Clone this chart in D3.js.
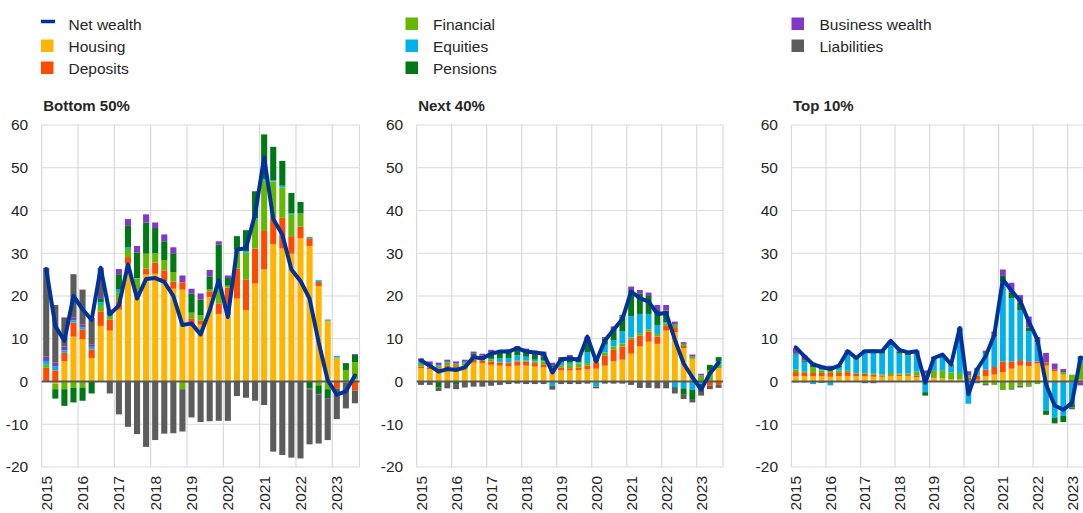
<!DOCTYPE html>
<html>
<head>
<meta charset="utf-8">
<script src="https://cdn.jsdelivr.net/npm/d3@7"></script>
<style>
  body { margin: 0; background: #fff; }
  svg { display: block; }
  text { font-family: "Liberation Sans", Arial, sans-serif; }
</style>
</head>
<body>
<svg id="chart" width="1083" height="513"></svg>
<script>
// ---- categories and tick labels ----
const years = ["2015", "2016", "2017", "2018", "2019", "2020", "2021", "2022", "2023"];
const quarters = years.flatMap(y => ["Q1", "Q2", "Q3", "Q4"].map(q => y + q)).slice(0, 35);
const yTicks = [60, 50, 40, 30, 20, 10, 0, -10, -20];

const seriesKeys = ["housing", "deposits", "financial", "equities", "pensions", "business", "liabilities"];
const seriesLabels = ["Housing", "Deposits", "Financial", "Equities", "Pensions", "Business wealth", "Liabilities"];
const seriesColors = ["#FFB400", "#FF4B00", "#65B800", "#00B1EA", "#007816", "#8139C6", "#5C5C5C"];
const netLabel = "Net wealth";
const netColor = "#003299";

// ---- Bottom 50% (contributions, percentage points) ----
const b50Housing     = [0, -0.5, 4.7, 10.5, 9.9, 5.5, 13.0, 11.9, 16.8, 27.6, 21.0, 25.0, 25.2, 23.5, 21.7, 21.5, 13.0, 13.3, 19.8, 15.8, 15.5, 19.4, 16.7, 22.9, 26.2, 32.1, 31.1, 29.9, 33.5, 31.7, 22.3, 14.2, 5.6, 0, 0.5];
const b50Deposits    = [3.2, 2.6, 2.0, 3.3, 2.3, 2.0, 3.4, 2.6, 1.9, 1.5, 0.3, 1.4, 2.6, 2.5, 1.7, 1.7, 1.8, 0.9, 1.3, 2.5, 6.5, 7.0, 7.2, 8.2, 9.0, 6.1, 7.2, 4.1, 2.7, 1.8, 1.0, 0, -1.6, -0.3, -2.1];
const b50Financial   = [0.7, -1.3, -1.8, -1.5, -1.4, 0, 1.5, 0.8, 2.2, 1.9, 2.8, 3.5, 2.2, 2.4, 2.2, -1.8, 1.3, 1.3, 0.4, 3.7, 0.4, 4.0, 6.2, 6.7, 11.8, 8.6, 7.1, 5.0, 3.1, 0, -0.9, -1.8, 0, 2.7, 4.0];
const b50Equities    = [0.9, 1.0, 0.6, 0.5, 0.5, 0.6, 0.6, 0.3, 0.6, 0.4, 0.1, 0, 0, 0, 0, 0, 0, 0, 0, 0, 0, 0.5, 0.4, 0.4, 0.4, 0.3, 0.4, 0.3, 0, 0.3, 0.4, 0.3, 0.4, 0, 0];
const b50Pensions    = [0, -2.2, -3.9, -3.4, -3.1, -2.8, 1.0, 0.8, 3.6, 5.0, 6.0, 7.3, 5.9, 4.4, 4.4, 0, 4.5, 3.7, 3.1, 10.0, 1.8, 3.1, 4.9, 6.3, 10.4, 7.8, 5.8, 4.8, 2.7, -1.6, -2.0, -2.1, 0, 1.6, 1.7];
const b50Business    = [1.0, 0.8, 0.9, 0.6, 0.6, 0.5, 0.5, 0.4, 1.2, 1.6, 1.5, 1.9, 1.3, 1.6, 1.4, 1.6, 1.1, 1.4, 1.5, 0.8, 0.6, 0, 0, 0, 0, 0, 0, 0, 0, -0.2, -0.2, -0.2, 0, 0, 0.2];
const b50Liabilities = [20.8, 13.5, 6.8, 10.2, 8.2, 6.3, 6.6, -2.8, -7.7, -10.6, -12.3, -15.3, -13.7, -12.2, -12.1, -9.9, -8.4, -9.5, -9.3, -9.2, -9.2, -3.4, -3.8, -4.5, -5.5, -16.4, -17.2, -17.8, -18.0, -12.9, -11.4, -9.6, -7.2, -6.0, -3.0];
const b50Net         = [26.3, 13.0, 9.5, 20.0, 16.9, 14.4, 26.6, 15.7, 17.8, 27.4, 19.4, 24.0, 24.2, 23.3, 20.0, 13.2, 13.6, 11.0, 16.6, 23.7, 15.1, 30.8, 31.2, 39.1, 52.4, 38.0, 34.4, 26.2, 23.5, 19.4, 9.2, 0.3, -3.1, -2.3, 1.4];

// ---- Next 40% ----
const n40Housing     = [3.1, 2.9, 2.7, 3.1, 2.9, 3.1, 4.4, 4.3, 3.9, 3.7, 3.5, 3.7, 3.7, 3.5, 3.3, 2.3, 2.6, 2.6, 2.7, 2.9, 3.0, 3.7, 4.7, 5.1, 6.5, 8.2, 9.3, 8.8, 11.9, 11.5, 7.8, 5.3, 0, 0, 3.1];
const n40Deposits    = [0.4, 0.4, 0.4, 0.7, 0.7, 0.6, 0.7, 0.6, 0.8, 0.7, 0.8, 1.0, 1.0, 0.8, 0.6, 0.4, 0.7, 0.5, 0.6, 0.8, 1.5, 2.3, 2.7, 3.1, 3.4, 2.5, 2.4, 1.7, 1.1, 1.0, 0.5, 0, 0, -1.0, -0.8];
const n40Financial   = [0.6, 0.4, 0.5, 0.6, 0.5, 0.6, 0.7, 0.5, 0.4, 0.2, 0.2, 0.2, 0.2, 0.4, 0.8, 0.6, 0.5, 0.8, 0.9, 0.6, 0.3, 0.8, 0.8, 0.7, 0.4, 0.6, 0.5, 0.6, 0.5, 0.8, 0.5, 0.5, 1.4, 2.6, 0.8];
const n40Equities    = [0.6, 0.2, 0.2, 0.1, 0.1, 0.2, 0, 0.1, 0.2, 0.8, 1.0, 1.2, 0.9, 0.4, 0.2, -1.0, 0.6, 0.5, 0.3, 2.5, -1.2, 1.8, 1.5, 2.8, 5.0, 4.5, 3.6, 2.1, 0.3, -1.3, -1.6, -1.9, -0.5, 0, 0.8];
const n40Pensions    = [0.3, 0.1, -1.4, 0.2, -0.6, 0.2, 0.7, 0.6, 1.5, 1.4, 1.5, 1.4, 1.2, 1.1, 1.0, 0.5, 0.6, 1.0, 0.8, 3.1, 0.6, 1.5, 2.8, 3.5, 6.1, 4.8, 4.2, 3.5, 2.8, 0, -1.5, -2.2, -1.0, 1.3, 1.0];
const n40Business    = [0.4, 0.7, 0.6, 0.4, 0.5, 0.4, 0.5, 0.4, 0.6, 0.6, 0.5, 0.8, 0.7, 1.0, 1.1, 0.6, 0.7, 0.8, 0.4, 0.6, 0.3, 0.3, 0.4, 0.4, 0.8, 0.8, 0.8, 1.2, 1.3, 0.7, 0.4, 0.5, 0.4, 0, 0];
const n40Liabilities = [-0.8, -0.8, -0.8, -1.6, -1.2, -1.4, -1.2, -1.2, -1.0, -0.8, -0.6, -0.5, -0.6, -0.6, -0.6, -0.9, -0.6, -0.6, -0.6, -0.5, -0.4, -0.5, -0.5, -0.5, -0.8, -1.5, -1.5, -1.6, -1.6, -1.5, -1.0, -0.8, -1.8, -0.8, -0.7];
const n40Net         = [4.9, 3.7, 2.3, 2.9, 2.7, 3.3, 5.7, 5.4, 6.5, 7.0, 7.0, 7.8, 7.0, 6.8, 6.5, 2.1, 5.2, 5.4, 5.1, 10.5, 4.7, 9.6, 12.1, 14.6, 21.0, 19.5, 18.7, 15.8, 16.0, 9.8, 4.2, 1.0, -1.9, 1.9, 4.4];

// ---- Top 10% ----
const t10Housing     = [1.2, 1.2, 1.2, 1.2, 1.1, 1.2, 1.3, 1.2, 1.2, 1.1, 1.1, 1.3, 1.3, 1.3, 1.0, 0.3, 0.8, 0.7, 0.5, 0.5, 0.3, 0.4, 1.3, 1.6, 2.2, 3.0, 3.7, 3.6, 4.2, 3.7, 2.4, 1.6, 0, 0.4, 0.5];
const t10Deposits    = [1.0, 0.8, 0.8, 0.8, 0.9, 0.8, 0.9, 0.6, 0.6, 0.5, 0.3, 0.2, 0.3, 0.2, 0.4, 0.3, 0.2, 0, 0, 0, 0.6, 1.0, 1.5, 1.8, 2.5, 1.7, 1.3, 1.0, 0.5, 0.8, 0.4, 0, -0.3, -0.3, -0.2];
const t10Financial   = [0.6, 0.3, 1.3, 0.6, 0.8, 0.6, 0.3, 0.2, 0.2, 0.2, 0.2, 0.5, 0.3, 0.4, 0.9, 1.2, 1.5, 1.8, 1.6, 1.5, 0.6, 0.4, -0.6, -0.8, -2.0, -1.6, -1.0, -1.0, -0.6, 0, 0, 0.6, 1.6, 3.7, 1.5];
const t10Equities    = [3.5, 2.3, -0.6, 0.3, -0.9, 0.8, 4.3, 3.2, 4.8, 4.9, 4.9, 6.5, 4.6, 4.2, 4.2, -2.5, 3.0, 3.4, 1.4, 9.8, -5.2, 1.2, 3.9, 7.1, 18.8, 14.8, 11.7, 7.2, 4.5, -6.8, -8.5, -8.0, -5.0, 1.2, 2.8];
const t10Pensions    = [0.3, 0.3, 0.8, 0.3, 0.5, 0.3, 0.3, 0.3, 0.5, 0.7, 0.6, 0.7, 0.5, 0.5, 0.6, -0.8, 0.3, 0.3, 0.3, 0.5, 0, 0, 0.2, 0.5, 1.2, 1.3, 1.7, 0.8, 0.6, -1.0, -1.3, -1.5, -0.8, 0.6, 0.5];
const t10Business    = [1.2, 1.2, 0.3, 0.2, 0.4, 0, 0.2, 0, 0.1, 0.1, 0, 0.3, 0.3, 0.2, 0.1, 0.8, 0, 0, 0.2, 0.3, 0.9, 0.2, 0.3, 0.7, 1.5, 2.3, 1.8, 2.6, 0.6, 2.2, 1.4, 0.7, 0, -0.6, 0.2];
const t10Liabilities = [-0.2, -0.2, 0, -0.3, 0, 0, 0, 0, -0.4, -0.4, 0, 0, 0, 0, 0, 0, 0, 0, 0, 0, 0, -0.4, -0.3, 0, 0, -0.3, -0.4, -0.2, 0, 0, 0, 0, -0.4, 0, 0];
const t10Net         = [8.0, 5.9, 4.0, 3.4, 2.9, 3.7, 7.1, 5.5, 7.1, 7.1, 7.1, 9.5, 7.4, 6.8, 7.1, -0.3, 5.5, 6.3, 4.0, 12.5, -3.0, 2.8, 5.9, 10.9, 23.9, 21.2, 18.9, 14.0, 9.8, -0.7, -5.6, -6.6, -5.0, 5.6, 5.0];

const panels = [
  { title: "Bottom 50%", left: 41.7, right: 359.5,
    series: [b50Housing, b50Deposits, b50Financial, b50Equities, b50Pensions, b50Business, b50Liabilities], net: b50Net },
  { title: "Next 40%", left: 416.7, right: 723,
    series: [n40Housing, n40Deposits, n40Financial, n40Equities, n40Pensions, n40Business, n40Liabilities], net: n40Net },
  { title: "Top 10%", left: 791.5, right: 1093.5,
    series: [t10Housing, t10Deposits, t10Financial, t10Equities, t10Pensions, t10Business, t10Liabilities], net: t10Net }
];

const svg = d3.select("#chart");
const plotTop = 125, plotBottom = 467;
const y = d3.scaleLinear().domain([-20, 60]).range([plotBottom, plotTop]);
const pad = 0.33;

// ---- legend ----
const legendCols = [
  { sx: 41, tx: 68.5, items: [{ line: true }, { k: 0 }, { k: 1 }] },
  { sx: 405.5, tx: 433, items: [{ k: 2 }, { k: 3 }, { k: 4 }] },
  { sx: 791.5, tx: 819.5, items: [{ k: 5 }, { k: 6 }] }
];
const legend = svg.append("g");
legendCols.forEach(col => {
  col.items.forEach((it, r) => {
    const base = 30 + r * 22;
    if (it.line) {
      legend.append("line")
        .attr("x1", col.sx).attr("x2", col.sx + 14)
        .attr("y1", base - 8.5).attr("y2", base - 8.5)
        .attr("stroke", netColor).attr("stroke-width", 3.5);
    } else {
      legend.append("rect")
        .attr("x", col.sx).attr("y", base - 12.5)
        .attr("width", 12.5).attr("height", 12.5)
        .attr("fill", seriesColors[it.k]);
    }
    legend.append("text")
      .attr("x", col.tx).attr("y", base)
      .attr("font-size", 15.5).attr("fill", "#262626")
      .text(it.line ? netLabel : seriesLabels[it.k]);
  });
});

// ---- panels ----
panels.forEach(p => {
  const g = svg.append("g");
  const x = d3.scaleBand().domain(quarters).range([p.left, p.right])
    .paddingInner(pad).paddingOuter(pad / 2);
  const step = x.step();
  const bw = x.bandwidth();
  const edge = q => x(q) - step * pad / 2;

  g.append("text")
    .attr("x", p.left + 1.5).attr("y", 111)
    .attr("font-size", 15).attr("font-weight", "bold").attr("fill", "#262626")
    .text(p.title);

  // grid
  g.append("g").selectAll("line").data(yTicks).join("line")
    .attr("x1", p.left).attr("x2", p.right)
    .attr("y1", d => y(d)).attr("y2", d => y(d))
    .attr("stroke", "#d9d9d9").attr("stroke-width", 1.2);
  const vLines = years.map(yr => edge(yr + "Q1")).concat([p.right]);
  g.append("g").selectAll("line").data(vLines).join("line")
    .attr("x1", d => d).attr("x2", d => d)
    .attr("y1", plotTop).attr("y2", plotBottom)
    .attr("stroke", "#d9d9d9").attr("stroke-width", 1.2);

  // y axis labels
  const ya = g.append("g").attr("transform", `translate(${p.left},0)`)
    .call(d3.axisLeft(y).tickValues(yTicks).tickSize(0).tickPadding(13.5).tickFormat(d => String(d)));
  ya.select(".domain").remove();
  ya.selectAll("text").attr("font-size", 15.5).attr("fill", "#262626")
    .attr("font-family", "'Liberation Sans', Arial, sans-serif");

  // x axis year labels
  const xa = g.append("g").attr("transform", `translate(0,${plotBottom})`)
    .call(d3.axisBottom(x).tickValues(years.map(yr => yr + "Q1")).tickSize(0).tickFormat(d => d.slice(0, 4)));
  xa.select(".domain").remove();
  xa.selectAll("text")
    .attr("transform", "rotate(-90)")
    .attr("text-anchor", "end")
    .attr("x", -9).attr("y", 0).attr("dy", "0.36em")
    .attr("font-size", 15.5).attr("fill", "#262626")
    .attr("font-family", "'Liberation Sans', Arial, sans-serif");

  // stacked bars
  const rows = quarters.map((q, i) => {
    const r = { q };
    seriesKeys.forEach((k, j) => { r[k] = p.series[j][i]; });
    return r;
  });
  const stacked = d3.stack().keys(seriesKeys).offset(d3.stackOffsetDiverging)(rows);
  g.append("g").selectAll("g").data(stacked).join("g")
    .attr("fill", (d, j) => seriesColors[j])
    .selectAll("rect").data(d => d).join("rect")
    .attr("x", d => x(d.data.q))
    .attr("width", bw)
    .attr("y", d => y(Math.max(d[0], d[1])))
    .attr("height", d => Math.abs(y(d[0]) - y(d[1])));

  // zero line
  g.append("line")
    .attr("x1", p.left).attr("x2", p.right)
    .attr("y1", y(0)).attr("y2", y(0))
    .attr("stroke", "#595959").attr("stroke-width", 2);

  // net wealth line
  const line = d3.line()
    .x((d, i) => x(quarters[i]) + bw / 2)
    .y(d => y(d));
  g.append("path")
    .datum(p.net)
    .attr("d", line)
    .attr("fill", "none")
    .attr("stroke", netColor)
    .attr("stroke-width", 4)
    .attr("stroke-linejoin", "round")
    .attr("stroke-linecap", "round");
});
</script>
</body>
</html>
